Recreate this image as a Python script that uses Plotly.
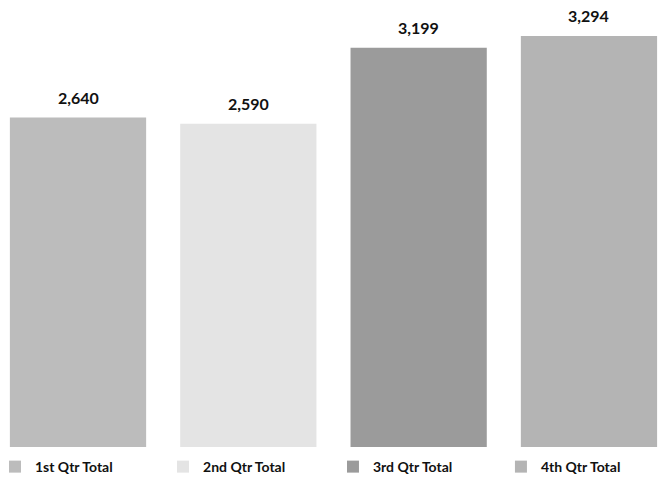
import plotly.graph_objects as go

# dados
categorias = ['1st Qtr Total', '2nd Qtr Total', '3rd Qtr Total', '4th Qtr Total']
valores = [2640, 2590, 3199, 3294]
cores = ['#bcbcbc', '#e4e4e4', '#9b9b9b', '#b4b4b4']

fonte = 'Lato'

# posição horizontal de cada legenda (fração do papel)
pos_legenda = [-0.0076, 0.247, 0.5045, 0.759]

fig = go.Figure()

for i, (nome, valor, cor) in enumerate(zip(categorias, valores, cores)):
    leg = 'legend' if i == 0 else f'legend{i + 1}'
    fig.add_trace(go.Bar(
        x=[i],
        y=[valor],
        name=nome,
        width=0.8,
        marker=dict(color=cor, line=dict(width=0)),
        legend=leg,
    ))
    # rótulo do valor acima da barra
    fig.add_annotation(
        x=i, y=valor,
        text=f'<b>{valor:,}</b>',
        showarrow=False,
        yanchor='bottom',
        yshift=9,
        font=dict(family=fonte, size=16, color='#111111'),
    )

# uma legenda por série, para posicionar cada item
legendas = {}
for i, px in enumerate(pos_legenda):
    leg = 'legend' if i == 0 else f'legend{i + 1}'
    legendas[leg] = dict(
        orientation='h',
        x=px, xanchor='left',
        y=-0.009, yanchor='top',
        font=dict(family=fonte, size=14, color='#111111', weight='bold'),
        itemclick=False,
        bgcolor='rgba(0,0,0,0)',
    )

fig.update_layout(
    width=660,
    height=482,
    margin=dict(l=0, r=0, t=0, b=35, autoexpand=False),
    paper_bgcolor='white',
    plot_bgcolor='white',
    barmode='overlay',
    showlegend=True,
    xaxis=dict(range=[-0.458, 3.417], visible=False),
    yaxis=dict(range=[0, 3582], visible=False),
    font=dict(family=fonte, size=15, color='#111111'),
    **legendas,
)

fig.write_html('out.html', config={'displayModeBar': False},
               post_script="document.body.style.margin='0';")
